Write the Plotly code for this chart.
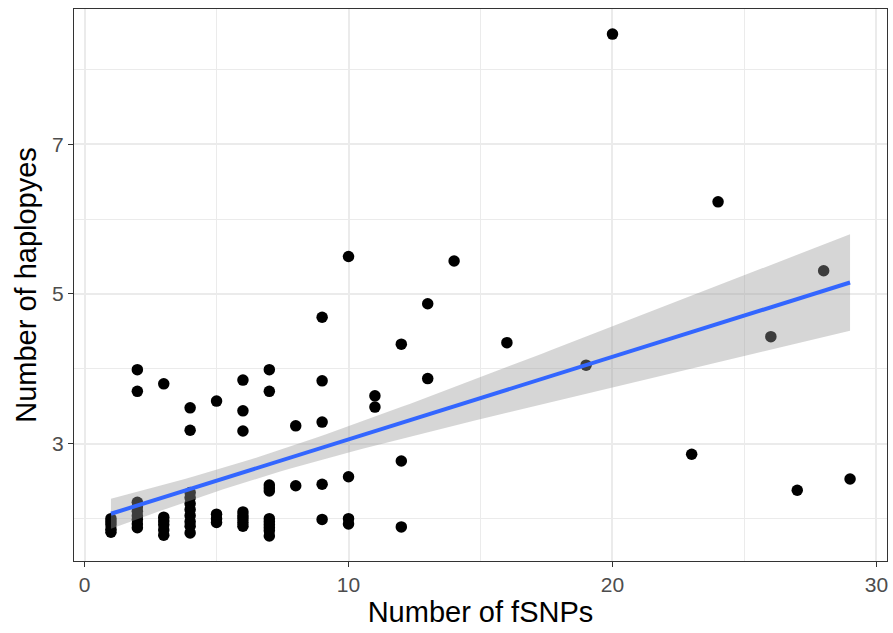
import numpy as np
import plotly.graph_objects as go

# Data.
# n_obs = how many observations sit on (practically) the same spot (overplotted dots).
fsnps = [1, 1, 1, 1, 1,
         2, 2, 2, 2, 2, 2, 2, 2, 2,
         3, 3, 3, 3, 3, 3,
         4, 4, 4, 4, 4, 4, 4, 4, 4, 4,
         5, 5, 5, 5,
         6, 6, 6, 6, 6, 6, 6, 6,
         7, 7, 7, 7, 7, 7, 7, 7, 7, 7, 7,
         8, 8,
         9, 9, 9, 9, 9,
         10, 10, 10, 10,
         11, 11,
         12, 12, 12,
         13, 13,
         14, 16, 19, 20, 23, 24, 26, 27, 28, 29]
haplotypes = [2.00, 1.96, 1.92, 1.86, 1.82,
              3.99, 3.70, 2.22, 2.16, 2.10, 2.04, 1.99, 1.93, 1.88,
              3.80, 2.02, 1.97, 1.92, 1.85, 1.78,
              3.48, 3.18, 2.35, 2.28, 2.20, 2.12, 2.04, 1.96, 1.90, 1.81,
              3.57, 2.06, 2.00, 1.95,
              3.85, 3.44, 3.17, 2.09, 2.04, 2.00, 1.95, 1.90,
              3.99, 3.70, 2.45, 2.41, 2.37, 2.00, 1.96, 1.92, 1.88, 1.84, 1.77,
              3.24, 2.44,
              4.69, 3.84, 3.29, 2.46, 1.99,
              5.50, 2.56, 2.00, 1.93,
              3.64, 3.49,
              4.33, 2.77, 1.89,
              4.87, 3.87,
              5.44, 4.35, 4.05, 8.47, 2.86, 6.23, 4.43, 2.38, 5.31, 2.53]
n_obs = [2, 1, 2, 1, 2,
         3, 2, 2, 2, 3, 3, 3, 3, 2,
         2, 3, 3, 3, 2, 2,
         2, 2, 3, 3, 3, 3, 4, 3, 3, 3,
         3, 3, 4, 3,
         3, 3, 2, 3, 2, 3, 2, 3,
         3, 3, 2, 2, 2, 3, 2, 3, 2, 2, 2,
         1, 1,
         2, 1, 1, 1, 1,
         2, 1, 1, 1,
         1, 1,
         1, 1, 1,
         2, 1,
         1, 1, 1, 1, 1, 1, 1, 1, 1, 1]

x_ticks = [0, 10, 20, 30]
y_ticks = [3, 5, 7]

# Linear model fit with 95% confidence band (as geom_smooth(method="lm"))
x = np.repeat(np.array(fsnps, dtype=float), n_obs)
y = np.repeat(np.array(haplotypes, dtype=float), n_obs)
n = len(x)
b1, b0 = np.polyfit(x, y, 1)
resid = y - (b0 + b1 * x)
s = np.sqrt(np.sum(resid ** 2) / (n - 2))
xbar = x.mean()
sxx = np.sum((x - xbar) ** 2)
nu = n - 2
z = 1.959964
tq = z + (z**3 + z) / (4 * nu) + (5 * z**5 + 16 * z**3 + 3 * z) / (96 * nu**2)
xs = np.linspace(x.min(), x.max(), 80)
ys = b0 + b1 * xs
se = s * np.sqrt(1.0 / n + (xs - xbar) ** 2 / sxx)
lo = ys - tq * se
hi = ys + tq * se

fig = go.Figure()
fig.add_trace(go.Scatter(x=fsnps, y=haplotypes, mode="markers",
                         marker=dict(color="black", size=11.5, line=dict(width=0)),
                         hoverinfo="skip", showlegend=False))
fig.add_trace(go.Scatter(x=np.concatenate([xs, xs[::-1]]),
                         y=np.concatenate([hi, lo[::-1]]),
                         fill="toself", fillcolor="rgba(153,153,153,0.4)",
                         line=dict(width=0), mode="lines",
                         hoverinfo="skip", showlegend=False))
fig.add_trace(go.Scatter(x=xs, y=ys, mode="lines",
                         line=dict(color="#3366FF", width=4),
                         hoverinfo="skip", showlegend=False))

xr = x.max() - x.min()
yr = y.max() - y.min()
axis_common = dict(
    showline=True, linecolor="#333333", linewidth=1.2, mirror=True,
    ticks="outside", ticklen=5, tickwidth=1.2, tickcolor="#333333",
    gridcolor="#EBEBEB", gridwidth=1.8,
    minor=dict(showgrid=True, gridcolor="#EBEBEB", gridwidth=0.9),
    zeroline=False,
    tickfont=dict(family="Liberation Sans, Arial, sans-serif", size=21, color="#4D4D4D"),
    title_font=dict(family="Liberation Sans, Arial, sans-serif", size=29, color="black"),
)
fig.update_xaxes(range=[x.min() - 0.05 * xr, x.max() + 0.05 * xr],
                 tickvals=x_ticks, ticktext=[str(v) for v in x_ticks],
                 minor_tickvals=[5, 15, 25],
                 title_text="Number of fSNPs", title_standoff=6, **axis_common)
fig.update_yaxes(range=[y.min() - 0.05 * yr, y.max() + 0.05 * yr],
                 tickvals=y_ticks, ticktext=[str(v) for v in y_ticks],
                 minor_tickvals=[2, 4, 6, 8],
                 title_text="Number of haplopyes", title_standoff=6, **axis_common)
fig.update_layout(width=893, height=633, plot_bgcolor="white", paper_bgcolor="white",
                  margin=dict(l=74, r=6, t=9, b=72), showlegend=False)
fig.write_html("out.html")
